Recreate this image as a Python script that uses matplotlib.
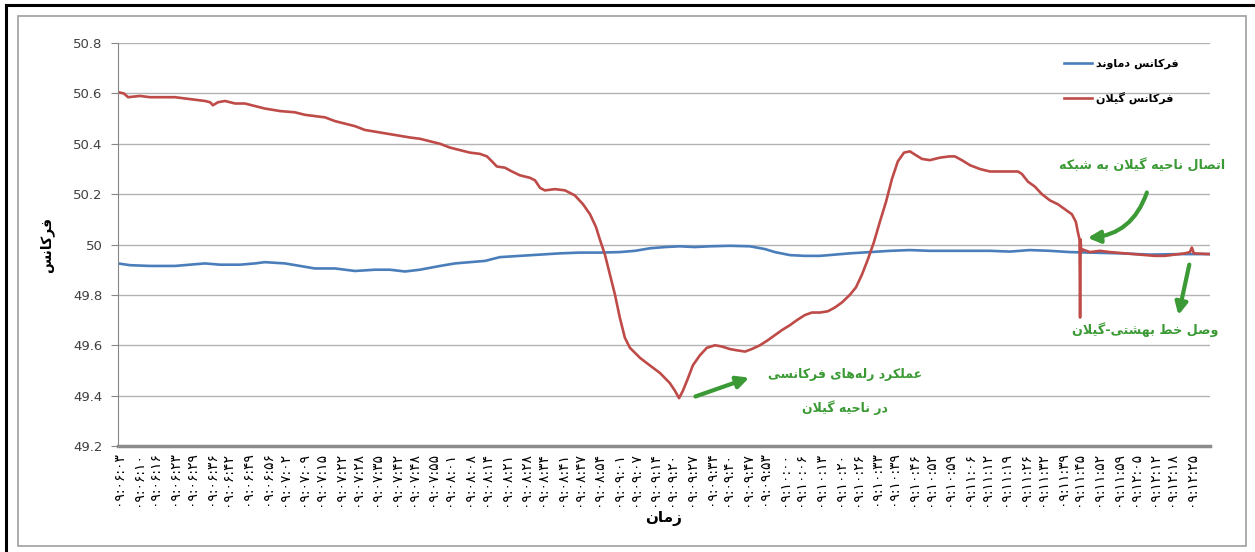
import matplotlib
matplotlib.use('Agg')
import matplotlib.pyplot as plt
from matplotlib.lines import Line2D
from matplotlib.patches import Rectangle
import numpy as np

plt.rcParams['font.family'] = ['DejaVu Sans']

# time axis labels (hh:mm:ss), shown with Persian digits
time_labels = [
    '09:06:03', '09:06:10', '09:06:16', '09:06:23', '09:06:29', '09:06:36', '09:06:42', '09:06:49', '09:06:56',
    '09:07:02', '09:07:09', '09:07:15', '09:07:22', '09:07:28', '09:07:35', '09:07:42', '09:07:48', '09:07:55',
    '09:08:01', '09:08:08', '09:08:14', '09:08:21', '09:08:28', '09:08:34', '09:08:41', '09:08:47', '09:08:54',
    '09:09:01', '09:09:07', '09:09:14', '09:09:20', '09:09:27', '09:09:34', '09:09:40', '09:09:47', '09:09:53',
    '09:10:00', '09:10:06', '09:10:13', '09:10:20', '09:10:26', '09:10:33', '09:10:39', '09:10:46', '09:10:52', '09:10:59',
    '09:11:06', '09:11:12', '09:11:19', '09:11:26', '09:11:32', '09:11:39', '09:11:45', '09:11:52', '09:11:59',
    '09:12:05', '09:12:12', '09:12:18', '09:12:25',
]

# Damavand frequency (seconds after 09:06:03, Hz)
damavand_t = [0, 4.3, 11.4, 20.3, 25.6, 31.0, 36.3, 43.4, 48.8, 52.3, 59.5, 64.8, 70.1, 77.3, 84.4, 91.5,
              96.8, 102.2, 107.5, 114.7, 120.0, 125.3, 130.7, 136.0, 143.1, 150.3, 157.4, 164.5, 171.6,
              178.7, 184.1, 189.4, 194.8, 200.1, 205.4, 210.8, 217.9, 225.0, 230.4, 233.9, 239.3, 244.6,
              250.0, 255.3, 260.6, 267.8, 274.9, 282.0, 289.1, 299.8, 310.5, 317.6, 324.7, 331.9, 339.0,
              346.1, 356.8, 367.5, 378.4, 388.8]
damavand_f = [49.925, 49.918, 49.915, 49.915, 49.92, 49.925, 49.92, 49.92, 49.925, 49.93, 49.925, 49.915,
              49.905, 49.905, 49.895, 49.9, 49.9, 49.893, 49.9, 49.915, 49.925, 49.93, 49.935, 49.95,
              49.955, 49.96, 49.965, 49.968, 49.968, 49.97, 49.975, 49.985, 49.99, 49.993, 49.99, 49.993,
              49.995, 49.993, 49.982, 49.97, 49.958, 49.955, 49.955, 49.96, 49.965, 49.97, 49.975, 49.978,
              49.975, 49.975, 49.975, 49.972, 49.978, 49.975, 49.97, 49.968, 49.965, 49.96, 49.962, 49.962]

# Gilan frequency (seconds after 09:06:03, Hz)
gilan_t = [0, 2.1, 3.6, 7.8, 11.4, 15.0, 20.3, 23.9, 27.4, 31.0, 32.8, 33.8, 35.6, 38.1, 41.7, 45.2, 48.8,
           52.3, 57.7, 63.0, 66.6, 70.1, 73.7, 77.3, 80.8, 84.4, 87.9, 93.3, 98.6, 104.0, 107.5, 111.1,
           114.7, 118.2, 121.8, 125.3, 128.9, 131.4, 133.2, 134.9, 137.8, 140.3, 143.1, 146.7, 148.5,
           150.3, 152.0, 155.6, 159.2, 162.7, 165.6, 168.1, 170.2, 171.6, 173.4, 175.2, 177.0, 178.7,
           180.5, 182.3, 185.9, 189.4, 193.0, 196.5, 198.3, 199.8, 201.2, 203.0, 204.7, 207.2, 209.7,
           212.6, 215.1, 217.9, 220.4, 223.3, 225.7, 228.6, 231.4, 233.9, 236.4, 239.3, 241.8, 244.6,
           247.1, 250.0, 252.8, 255.3, 257.8, 260.6, 262.8, 264.9, 267.0, 269.2, 271.3, 273.5, 275.6,
           277.7, 279.9, 282.0, 284.1, 286.3, 289.1, 292.7, 296.2, 298.0, 300.5, 303.4, 306.9, 310.5,
           314.0, 317.6, 320.5, 321.9, 324.0, 326.5, 329.0, 331.9, 334.7, 337.2, 339.7, 341.1, 341.8,
           342.4, 342.6, 342.8, 343.0, 343.6, 346.1, 349.7, 353.2, 358.6, 363.9, 369.2, 372.8, 376.4,
           379.9, 381.7, 382.4, 383.1, 388.8]
gilan_f = [50.605, 50.6, 50.585, 50.59, 50.585, 50.585, 50.585, 50.58, 50.575, 50.57, 50.565, 50.553, 50.565,
           50.57, 50.56, 50.56, 50.55, 50.54, 50.53, 50.525, 50.515, 50.51, 50.505, 50.49, 50.48, 50.47,
           50.455, 50.445, 50.435, 50.425, 50.42, 50.41, 50.40, 50.385, 50.375, 50.365, 50.36, 50.35,
           50.33, 50.31, 50.305, 50.29, 50.275, 50.265, 50.255, 50.225, 50.215, 50.22, 50.215, 50.195,
           50.16, 50.12, 50.07, 50.02, 49.96, 49.88, 49.80, 49.71, 49.63, 49.59, 49.55, 49.52, 49.49,
           49.45, 49.42, 49.39, 49.42, 49.47, 49.52, 49.56, 49.59, 49.60, 49.595, 49.585, 49.58, 49.575,
           49.585, 49.60, 49.62, 49.64, 49.66, 49.68, 49.70, 49.72, 49.73, 49.73, 49.735, 49.75, 49.77,
           49.80, 49.83, 49.88, 49.94, 50.01, 50.09, 50.17, 50.26, 50.33, 50.365, 50.37, 50.355, 50.34,
           50.335, 50.345, 50.35, 50.35, 50.335, 50.315, 50.30, 50.29, 50.29, 50.29, 50.29, 50.28, 50.25,
           50.23, 50.20, 50.175, 50.16, 50.14, 50.12, 50.09, 50.05, 50.02, 49.71, 50.02, 49.97, 49.98,
           49.97, 49.975, 49.97, 49.965, 49.96, 49.955, 49.955, 49.96, 49.965, 49.97, 49.988, 49.965,
           49.962]

y_ticks = [49.2, 49.4, 49.6, 49.8, 50.0, 50.2, 50.4, 50.6, 50.8]

# --- minimal Persian shaping (matplotlib has no bidi / joining) ---
FORMS = {
    'ا': ('\uFE8D', '\uFE8E'), 'د': ('\uFEA9', '\uFEAA'), 'ر': ('\uFEAD', '\uFEAE'),
    'ز': ('\uFEAF', '\uFEB0'), 'و': ('\uFEED', '\uFEEE'),
    'ب': ('\uFE8F', '\uFE90', '\uFE91', '\uFE92'), 'ت': ('\uFE95', '\uFE96', '\uFE97', '\uFE98'),
    'ح': ('\uFEA1', '\uFEA2', '\uFEA3', '\uFEA4'), 'خ': ('\uFEA5', '\uFEA6', '\uFEA7', '\uFEA8'),
    'س': ('\uFEB1', '\uFEB2', '\uFEB3', '\uFEB4'), 'ش': ('\uFEB5', '\uFEB6', '\uFEB7', '\uFEB8'),
    'ص': ('\uFEB9', '\uFEBA', '\uFEBB', '\uFEBC'), 'ط': ('\uFEC1', '\uFEC2', '\uFEC3', '\uFEC4'),
    'ع': ('\uFEC9', '\uFECA', '\uFECB', '\uFECC'), 'ف': ('\uFED1', '\uFED2', '\uFED3', '\uFED4'),
    'ل': ('\uFEDD', '\uFEDE', '\uFEDF', '\uFEE0'), 'م': ('\uFEE1', '\uFEE2', '\uFEE3', '\uFEE4'),
    'ن': ('\uFEE5', '\uFEE6', '\uFEE7', '\uFEE8'), 'ه': ('\uFEE9', '\uFEEA', '\uFEEB', '\uFEEC'),
    'ی': ('\uFBFC', '\uFBFD', '\uFBFE', '\uFBFF'), 'ک': ('\uFB8E', '\uFB8F', '\uFB90', '\uFB91'),
    'گ': ('\uFB92', '\uFB93', '\uFB94', '\uFB95'),
}


def fa(s):
    out = []
    i = 0
    while i < len(s):
        c = s[i]
        if c not in FORMS:
            if c != '\u200c':
                out.append(c)
            i += 1
            continue
        prev = s[i - 1] if i > 0 else ''
        a = prev in FORMS and len(FORMS[prev]) == 4
        if c == 'ل' and i + 1 < len(s) and s[i + 1] == 'ا':
            out.append('\uFEFC' if a else '\uFEFB')
            i += 2
            continue
        nxt = s[i + 1] if i + 1 < len(s) else ''
        b = len(FORMS[c]) == 4 and nxt in FORMS
        f = FORMS[c]
        out.append(f[3] if (a and b) else f[1] if a else f[2] if b else f[0])
        i += 1
    return ''.join(reversed(out))


def secs(lbl):
    h, m, s = map(int, lbl.split(':'))
    return h * 3600 + m * 60 + s


fa_digits = str.maketrans('0123456789', '۰۱۲۳۴۵۶۷۸۹')
t0 = secs(time_labels[0])
tick_pos = [secs(l) - t0 for l in time_labels]

green = '#3b9a35'
blue = '#4a7ebb'
red = '#be4b48'

fig = plt.figure(figsize=(12.55, 5.52), dpi=100)
ax = fig.add_axes([0.094, 0.192, 0.870, 0.730])

ax.plot(damavand_t, damavand_f, color=blue, lw=1.9, label=fa('فرکانس دماوند'))
ax.plot(gilan_t, gilan_f, color=red, lw=1.9, label=fa('فرکانس گیلان'))

ax.set_xlim(0, 388.8)
ax.set_ylim(49.2, 50.8)
ax.set_yticks(y_ticks)
ax.set_yticklabels(['%g' % v for v in y_ticks], fontsize=9.5, color='#404040')
ax.set_xticks(tick_pos)
ax.set_xticklabels([l.translate(fa_digits) for l in time_labels], rotation=90, fontsize=10)
ax.tick_params(axis='x', length=0, pad=4)
ax.tick_params(axis='y', length=5, color='#868686', pad=6)
ax.grid(axis='y', color='#b3b3b3', lw=1)
ax.set_axisbelow(True)
for s in ('top', 'right'):
    ax.spines[s].set_visible(False)
ax.spines['left'].set_color('#868686')
ax.spines['bottom'].set_color('#8c8c8c')
ax.spines['bottom'].set_linewidth(2.5)

ax.set_ylabel(fa('فرکانس'), fontsize=10, fontweight='bold', labelpad=14)
ax.set_xlabel(fa('زمان'), fontsize=11, fontweight='bold', labelpad=4)

ax.legend(loc='upper left', bbox_to_anchor=(0.861, 0.975), frameon=False,
          handlelength=2.6, labelspacing=2.0, handletextpad=0.3, borderpad=0,
          prop={'weight': 'bold', 'size': 8})

# annotations
ax.annotate('', xy=(225.7, 49.475), xytext=(204.7, 49.393),
            arrowprops=dict(arrowstyle='-|>', lw=3, color=green, mutation_scale=18))
ax.text(258.9, 49.483, fa('عملکرد رله\u200cهای فرکانسی'), color=green, fontsize=9,
        fontweight='bold', ha='center', va='center')
ax.text(258.9, 49.352, fa('در ناحیه گیلان'), color=green, fontsize=9,
        fontweight='bold', ha='center', va='center')

ax.text(364.6, 50.312, fa('اتصال ناحیه گیلان به شبکه'), color=green, fontsize=9.2,
        fontweight='bold', ha='center', va='center')
ax.annotate('', xy=(344.3, 50.026), xytext=(366.7, 50.217),
            arrowprops=dict(arrowstyle='-|>', lw=3, color=green, mutation_scale=18,
                            connectionstyle='arc3,rad=-0.35'))

ax.text(365.7, 49.661, fa('وصل خط بهشتی-گیلان'), color=green, fontsize=9.2,
        fontweight='bold', ha='center', va='center')
ax.annotate('', xy=(377.4, 49.709), xytext=(381.7, 49.931),
            arrowprops=dict(arrowstyle='-|>', lw=3, color=green, mutation_scale=18))

# outer frames
fig.add_artist(Rectangle((18 / 1255, 1 - 546 / 552), 1228 / 1255, 530 / 552, transform=fig.transFigure,
                         fill=False, edgecolor='#a6a6a6', lw=1.3))
fig.add_artist(Line2D([6 / 1255, 6 / 1255], [0, 1 - 5 / 552], transform=fig.transFigure, color='black', lw=2.2))
fig.add_artist(Line2D([6 / 1255, 1], [1 - 5 / 552, 1 - 5 / 552], transform=fig.transFigure, color='black', lw=2.2))

fig.savefig('out.png', dpi=100)
